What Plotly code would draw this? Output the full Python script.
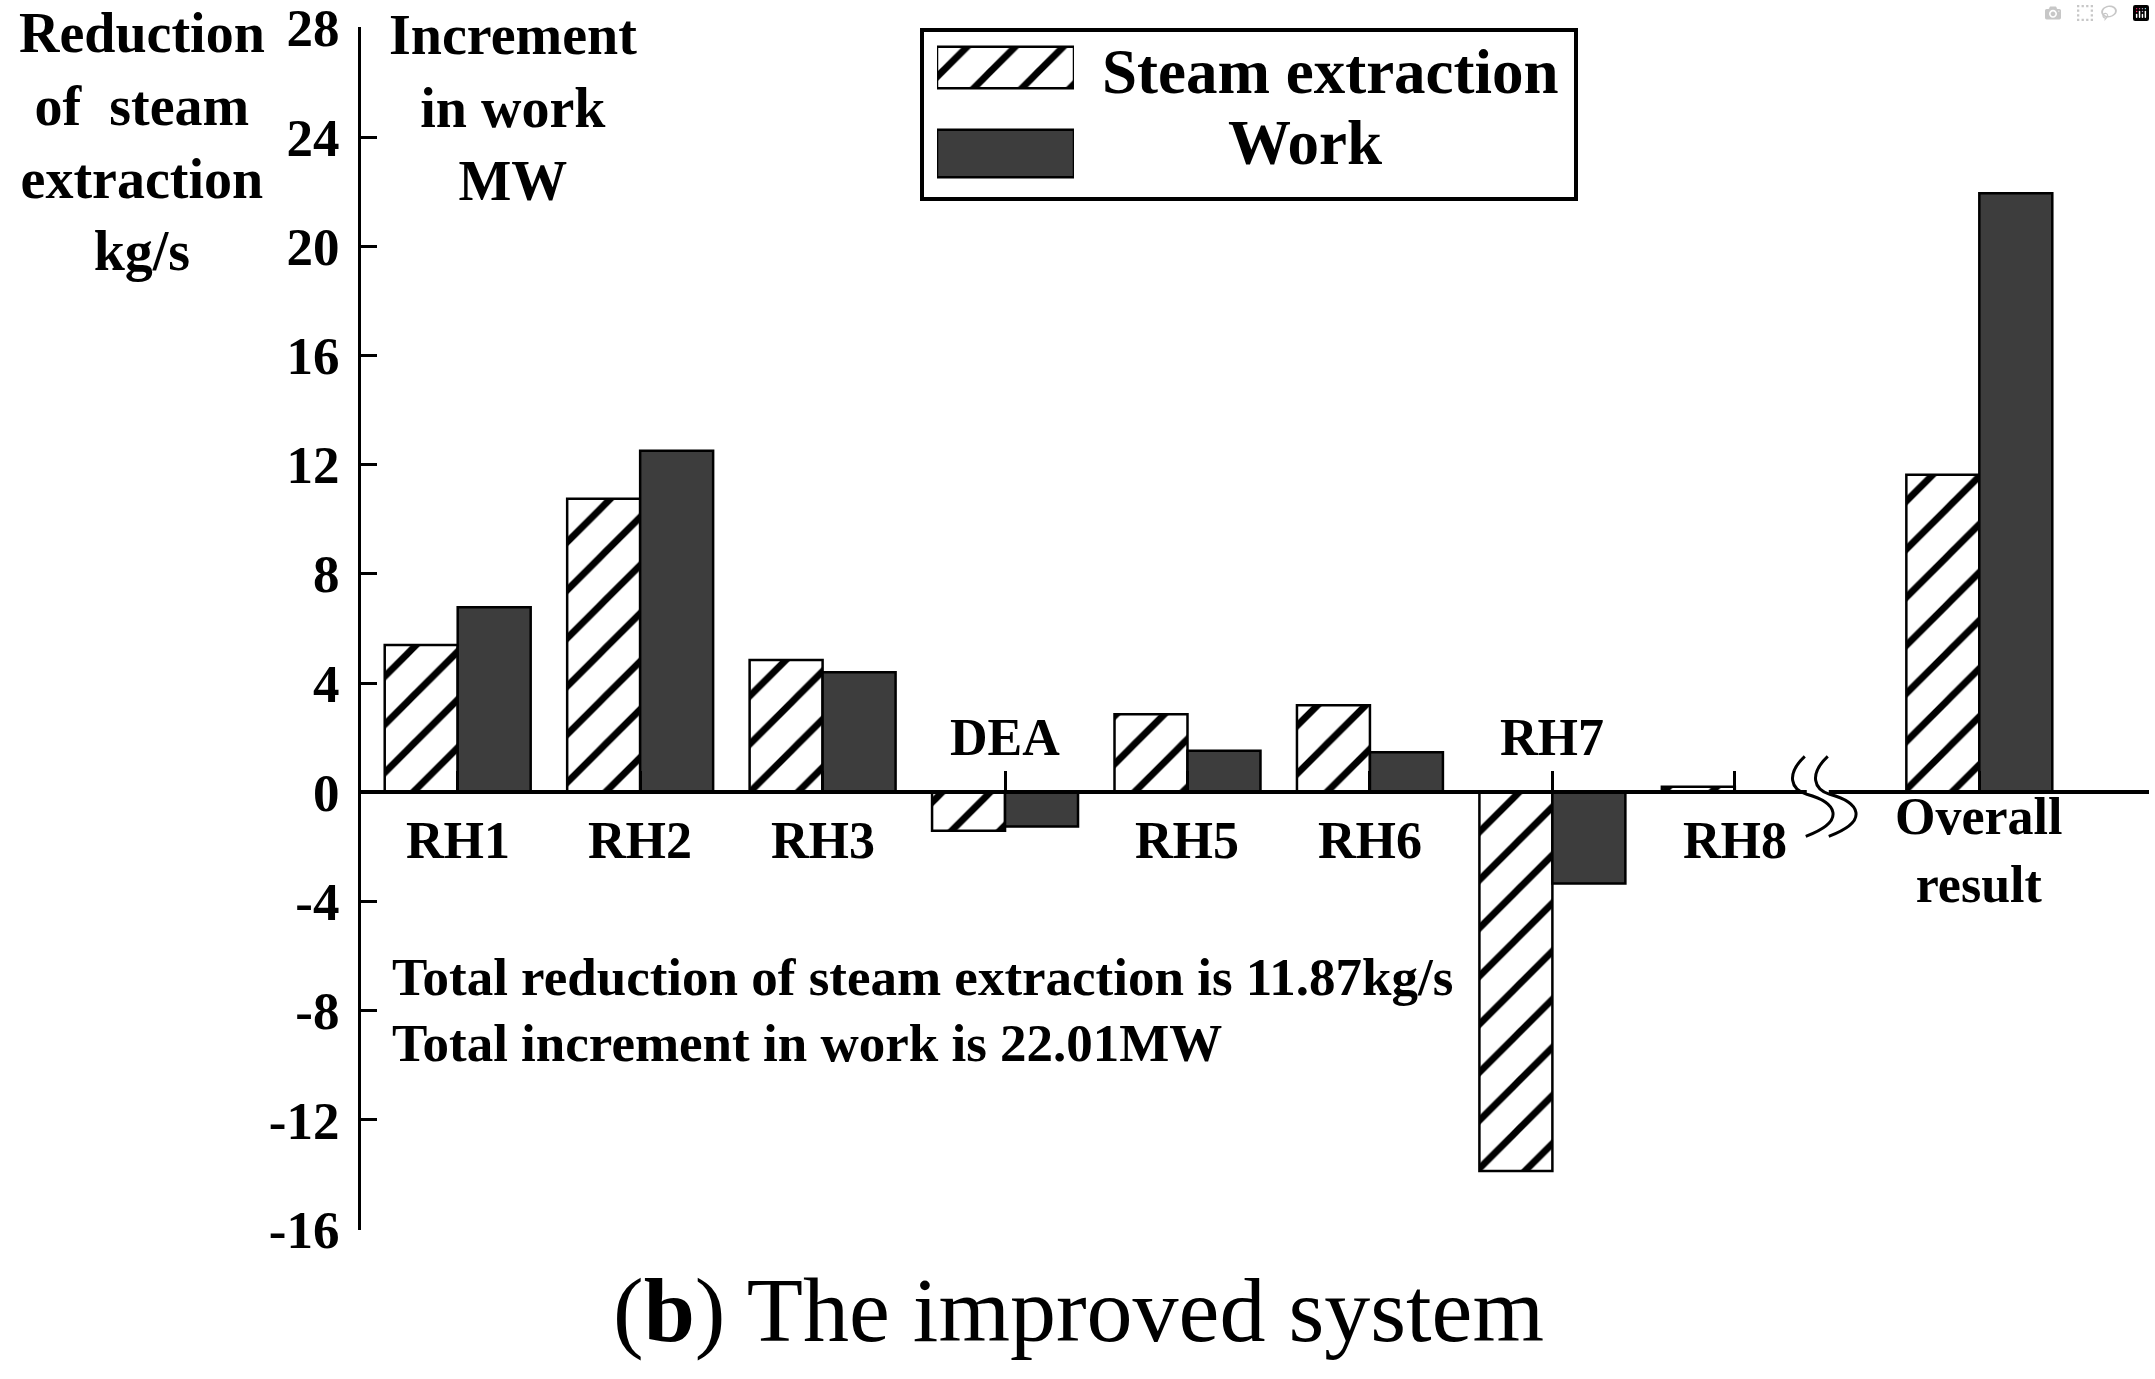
import plotly.graph_objects as go

# ---------------- data ----------------
categories = ["RH1", "RH2", "RH3", "DEA", "RH5", "RH6", "RH7", "RH8", "Overall<br>result"]
steam_reduction = [5.40, 10.75, 4.85, -1.41, 2.86, 3.19, -13.87, 0.20, 11.63]   # kg/s
work_increment = [6.78, 12.51, 4.40, -1.25, 1.52, 1.47, -3.34, 0.0, 21.94]      # MW
series_names = ["Steam extraction", "Work"]
y_tick_values = [28, 24, 20, 16, 12, 8, 4, 0, -4, -8, -12, -16]
y_tick_labels = ["28", "24", "20", "16", "12", "8", "4", "0", "-4", "-8", "-12", "-16"]
summary_lines = ["Total reduction of steam extraction is 11.87kg/s",
                 "Total increment in work is 22.01MW"]
left_title = "Reduction<br>of\u00a0 steam<br>extraction<br>kg/s"
right_title = "Increment<br>in work<br>MW"
caption = "(<b>b</b>) The improved system"

# ---------------- geometry / style ----------------
W, H = 2155, 1379
L, R, T, B = 361, 6, 27, 149
PW, PH = W - L - R, H - T - B
XR = [-0.53, 9.27]
YR = [-16.03, 28.03]
UX = PW / (XR[1] - XR[0])
UY = PH / (YR[1] - YR[0])
FONT = "Liberation Serif"
DARK = "#3d3d3d"

# category positions (gap before the overall result)
xpos = [float(i) for i in range(len(categories) - 1)] + [len(categories) - 1 + 0.34]


def px(X):
    return (X - L) / PW


def py(Y):
    return (H - B - Y) / PH


hatch = dict(shape="/", size=34, solidity=0.2, fgcolor="black", bgcolor="white", fillmode="replace")

fig = go.Figure()
fig.add_trace(go.Bar(x=xpos, y=steam_reduction, name=series_names[0], showlegend=False,
                     marker=dict(color="white", line=dict(color="black", width=2.5), pattern=hatch)))
fig.add_trace(go.Bar(x=xpos, y=work_increment, name=series_names[1], showlegend=False,
                     marker=dict(color=DARK, line=dict(color="black", width=2.5))))

# legend patches on an auxiliary hidden subplot
fig.add_trace(go.Bar(x=[1], y=[0], orientation="h", width=0.48, offset=-0.24, base=0,
                     xaxis="x2", yaxis="y2", showlegend=False, hoverinfo="skip",
                     marker=dict(color="white", line=dict(color="black", width=2.5), pattern=hatch)))
fig.add_trace(go.Bar(x=[1], y=[1], orientation="h", width=0.55, offset=-0.275, base=0,
                     xaxis="x2", yaxis="y2", showlegend=False, hoverinfo="skip",
                     marker=dict(color=DARK, line=dict(color="black", width=2.5))))

annotations = []
bold = dict(family=FONT, color="black", weight="bold")

# category labels: above the zero line for negative groups, below otherwise
for i, cat in enumerate(categories):
    n_lines = cat.count("<br>") + 1
    above = min(steam_reduction[i], work_increment[i]) < 0
    shift = 55 if above else -(48 if n_lines == 1 else 58)
    annotations.append(dict(x=xpos[i], y=0, xref="x", yref="y", text=cat, showarrow=False,
                            yshift=shift, xanchor="center", yanchor="middle",
                            font=dict(size=52, **bold)))

# axis titles
annotations.append(dict(x=px(142), y=py(142), xref="paper", yref="paper", text=left_title,
                        showarrow=False, xanchor="center", yanchor="middle",
                        font=dict(size=56, **bold)))
annotations.append(dict(x=px(513), y=py(108), xref="paper", yref="paper", text=right_title,
                        showarrow=False, xanchor="center", yanchor="middle",
                        font=dict(size=56, **bold)))

# summary text
for k, line in enumerate(summary_lines):
    annotations.append(dict(x=px(390), y=py(977 + 66 * k), xref="paper", yref="paper", text=line,
                            showarrow=False, xanchor="left", yanchor="middle",
                            font=dict(size=53, **bold)))

# legend texts
annotations.append(dict(x=px(1330), y=py(72), xref="paper", yref="paper", text=series_names[0],
                        showarrow=False, xanchor="center", yanchor="middle",
                        font=dict(size=63, **bold)))
annotations.append(dict(x=px(1305), y=py(143), xref="paper", yref="paper", text=series_names[1],
                        showarrow=False, xanchor="center", yanchor="middle",
                        font=dict(size=63, **bold)))

# caption
annotations.append(dict(x=px(1078), y=py(1310), xref="paper", yref="paper", text=caption,
                        showarrow=False, xanchor="center", yanchor="middle",
                        font=dict(family=FONT, size=92, color="black")))

# shapes: legend frame, axis break
shapes = [dict(type="rect", xref="paper", yref="paper", x0=px(922), x1=px(1576),
               y0=py(199), y1=py(30), line=dict(color="black", width=4), fillcolor="rgba(0,0,0,0)",
               layer="above")]

bx = xpos[7] + 0.46


def pt(dx, dy):
    return f"{bx + dx / UX:.4f},{-dy / UY:.4f}"


shapes.append(dict(type="rect", xref="x", yref="y", x0=bx - 12 / UX, x1=bx + 10 / UX,
                   y0=-5 / UY, y1=5 / UY, fillcolor="white", line=dict(width=0), layer="above"))
for off in (0, 23):
    path = (f"M{pt(-14 + off, -36)} C{pt(-33 + off, -18)} {pt(-28 + off, -3)} {pt(-12 + off, 2)} "
            f"C{pt(17 + off, 10)} {pt(29 + off, 28)} {pt(-13 + off, 44)}")
    shapes.append(dict(type="path", xref="x", yref="y", path=path,
                       line=dict(color="black", width=3), layer="above"))

fig.update_layout(
    width=W, height=H,
    margin=dict(l=L, r=R, t=T, b=B, pad=0, autoexpand=False),
    paper_bgcolor="white", plot_bgcolor="white",
    barmode="group", bargap=0.2, bargroupgap=0.0,
    showlegend=False,
    annotations=annotations,
    shapes=shapes,
    xaxis=dict(range=XR, anchor="free", position=(0 - YR[0]) / (YR[1] - YR[0]),
               showline=True, linecolor="black", linewidth=4, automargin=False,
               tickmode="array", tickvals=xpos, ticks="inside", ticklen=19, tickwidth=3,
               tickcolor="black", showticklabels=False, showgrid=False, zeroline=False,
               fixedrange=True),
    yaxis=dict(range=YR, showline=True, linecolor="black", linewidth=3, automargin=False,
               tickmode="array", tickvals=y_tick_values, ticktext=y_tick_labels,
               ticks="inside", ticklen=16, tickwidth=3, tickcolor="black",
               tickfont=dict(size=53, **bold), ticklabelstandoff=8,
               ticklabeloverflow="allow",
               showgrid=False, zeroline=False, fixedrange=True),
    xaxis2=dict(domain=[px(937), px(1074)], range=[0, 1], anchor="y2", visible=False,
                automargin=False, fixedrange=True),
    yaxis2=dict(domain=[py(192.2), py(28.8)], range=[1.45, -0.45], anchor="x2", visible=False,
                automargin=False, fixedrange=True),
)

fig.write_html("out.html", post_script="document.body.style.margin='0';")
